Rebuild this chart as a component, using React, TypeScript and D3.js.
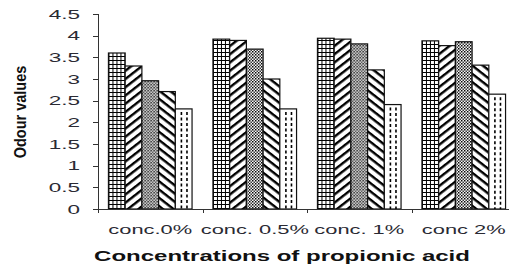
import React, {useRef, useEffect} from 'react';
import * as d3 from 'd3';

const categories = ['conc.0%', 'conc. 0.5%', 'conc. 1%', 'conc 2%'];
const seriesNames = ['s1', 's2', 's3', 's4', 's5'];
const s1 = [3.6, 3.92, 3.94, 3.88];
const s2 = [3.3, 3.89, 3.92, 3.77];
const s3 = [2.96, 3.69, 3.81, 3.86];
const s4 = [2.71, 3.0, 3.21, 3.32];
const s5 = [2.31, 2.31, 2.41, 2.65];
const yTicks = [0, 0.5, 1, 1.5, 2, 2.5, 3, 3.5, 4, 4.5];

const WIDTH = 509;
const HEIGHT = 268;

export default function App(){

    const svgRef = useRef(null);

    useEffect(() => {
        const svg = d3.select(svgRef.current);
        svg.selectAll('*').remove();

        const series = [s1, s2, s3, s4, s5];
        const fills = ['url(#p-grid)', 'url(#p-fwd)', 'url(#p-check)', 'url(#p-back)', '#fff'];

        // patterns
        const defs = svg.append('defs');

        const grid = defs.append('pattern').attr('id', 'p-grid')
            .attr('patternUnits', 'userSpaceOnUse').attr('width', 4).attr('height', 4);
        grid.append('rect').attr('width', 4).attr('height', 4).attr('fill', '#fff');
        grid.append('path').attr('d', 'M0,0.5H4M0.5,0V4').attr('stroke', '#000').attr('stroke-width', 1);

        const fwd = defs.append('pattern').attr('id', 'p-fwd')
            .attr('patternUnits', 'userSpaceOnUse').attr('width', 8).attr('height', 6.5)
            .attr('patternTransform', 'rotate(-38)');
        fwd.append('rect').attr('width', 8).attr('height', 6.5).attr('fill', '#fff');
        fwd.append('rect').attr('y', 0).attr('width', 8).attr('height', 2.4).attr('fill', '#000');

        const back = defs.append('pattern').attr('id', 'p-back')
            .attr('patternUnits', 'userSpaceOnUse').attr('width', 8).attr('height', 6.5)
            .attr('patternTransform', 'rotate(38)');
        back.append('rect').attr('width', 8).attr('height', 6.5).attr('fill', '#fff');
        back.append('rect').attr('y', 0).attr('width', 8).attr('height', 2.4).attr('fill', '#000');

        const check = defs.append('pattern').attr('id', 'p-check')
            .attr('patternUnits', 'userSpaceOnUse').attr('width', 3).attr('height', 3);
        check.append('rect').attr('width', 3).attr('height', 3).attr('fill', '#fff');
        check.append('rect').attr('width', 1.5).attr('height', 1.5).attr('fill', '#000');
        check.append('rect').attr('x', 1.5).attr('y', 1.5).attr('width', 1.5).attr('height', 1.5).attr('fill', '#333');

        // scales
        const x0 = d3.scaleBand().domain(categories).range([98, 516]).paddingInner(0.2).paddingOuter(0.1);
        const x1 = d3.scaleBand().domain(seriesNames).range([0, x0.bandwidth()]);
        const y = d3.scaleLinear().domain([0, 4.5]).range([209, 14]);

        // bars
        const groups = svg.append('g').selectAll('g')
            .data(categories)
            .join('g')
            .attr('transform', d => `translate(${x0(d)},0)`);

        const barData = (d, i) => series.map((s, j) => ({key: seriesNames[j], value: s[i], fill: fills[j]}));

        groups.selectAll('rect')
            .data(barData)
            .join('rect')
            .attr('x', d => x1(d.key))
            .attr('y', d => y(d.value))
            .attr('width', x1.bandwidth())
            .attr('height', d => y(0) - y(d.value))
            .attr('fill', d => d.fill)
            .attr('stroke', '#111')
            .attr('stroke-width', 1.2);

        // dashed columns inside the last bar
        groups.selectAll('line.dash')
            .data((d, i) => [1 / 3, 2 / 3].map(f => ({f, value: s5[i]})))
            .join('line')
            .attr('class', 'dash')
            .attr('x1', d => x1('s5') + x1.bandwidth() * d.f + 0.5)
            .attr('x2', d => x1('s5') + x1.bandwidth() * d.f + 0.5)
            .attr('y1', d => y(d.value) + 3)
            .attr('y2', y(0))
            .attr('stroke', '#000')
            .attr('stroke-width', 1.6)
            .attr('stroke-dasharray', '3,2.5');

        // axes
        const axisColor = '#333';
        svg.append('line')
            .attr('x1', 98.5).attr('x2', 98.5).attr('y1', y(4.5)).attr('y2', 212)
            .attr('stroke', axisColor);
        svg.append('line')
            .attr('x1', 98).attr('x2', WIDTH).attr('y1', 209.5).attr('y2', 209.5)
            .attr('stroke', axisColor);

        svg.append('g').selectAll('line')
            .data(yTicks)
            .join('line')
            .attr('x1', 93).attr('x2', 98.5)
            .attr('y1', d => Math.round(y(d)) + 0.5).attr('y2', d => Math.round(y(d)) + 0.5)
            .attr('stroke', axisColor);

        svg.append('g').selectAll('text')
            .data(yTicks)
            .join('text')
            .attr('transform', d => `translate(80,${y(d) + 4.5}) scale(1.8,1)`)
            .attr('text-anchor', 'end')
            .attr('font-family', 'Liberation Sans, Arial, sans-serif')
            .attr('font-size', 12.5)
            .attr('fill', '#2a2a33')
            .text(d => d);

        // category boundary ticks
        const bounds = categories.map(c => x0(c) - x0.step() * x0.paddingOuter());
        svg.append('g').selectAll('line')
            .data(bounds)
            .join('line')
            .attr('x1', d => Math.round(d) + 0.5).attr('x2', d => Math.round(d) + 0.5)
            .attr('y1', 209).attr('y2', 213)
            .attr('stroke', axisColor);

        svg.append('g').selectAll('text')
            .data(categories)
            .join('text')
            .attr('transform', d => `translate(${x0(d) + x0.bandwidth() / 2},234) scale(1.75,1)`)
            .attr('text-anchor', 'middle')
            .attr('font-family', 'Liberation Sans, Arial, sans-serif')
            .attr('font-size', 12.5)
            .attr('fill', '#2a2a33')
            .text(d => d);

        // titles
        svg.append('text')
            .attr('transform', 'translate(282,261) scale(1.6,1)')
            .attr('text-anchor', 'middle')
            .attr('font-family', 'Liberation Sans, Arial, sans-serif')
            .attr('font-weight', 'bold')
            .attr('font-size', 15)
            .attr('fill', '#111')
            .text('Concentrations of propionic acid');

        svg.append('text')
            .attr('transform', 'translate(26,112) rotate(-90) scale(1,1.15)')
            .attr('text-anchor', 'middle')
            .attr('font-family', 'Liberation Sans, Arial, sans-serif')
            .attr('font-weight', 'bold')
            .attr('font-size', 14.5)
            .attr('fill', '#111')
            .text('Odour values');
    });

    return(
        <svg
            ref={svgRef}
            width={WIDTH}
            height={HEIGHT}
            style={{position: 'absolute', left: 0, top: 0, background: '#fff'}}
        />
    );
}
